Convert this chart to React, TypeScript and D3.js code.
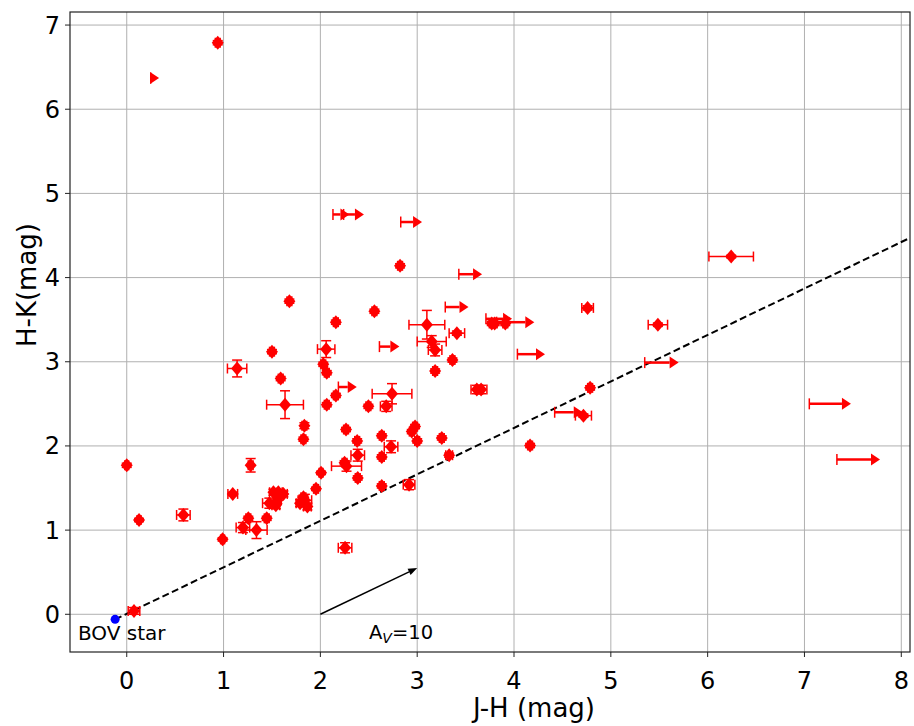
import React from 'react';
import * as d3 from 'd3';

// Detected sources: J-H, H-K with errors
const jhVals = [0.94, 0.0, 0.127, 0.585, 0.075, 0.99, 1.095, 1.28, 1.68, 1.5, 1.14, 1.59, 1.635, 1.835, 1.825, 2.06, 2.16, 2.03, 2.066, 2.16, 2.066, 2.007, 1.955, 1.515, 1.566, 1.618, 1.473, 1.54, 1.556, 1.79, 1.84, 1.866, 1.825, 1.446, 1.256, 1.2, 1.34, 2.823, 2.558, 3.1, 3.15, 3.185, 3.364, 3.41, 3.185, 2.74, 2.68, 2.496, 2.265, 2.38, 2.386, 2.27, 2.386, 2.634, 2.73, 2.634, 2.944, 2.978, 3.0, 3.254, 3.33, 2.255, 2.634, 2.916, 4.166, 4.786, 4.717, 3.616, 3.66, 3.77, 3.8, 3.91, 4.76, 6.243, 5.486, 2.25];
const hkVals = [6.79, 1.77, 1.12, 1.18, 0.04, 0.89, 1.43, 1.77, 3.72, 3.12, 2.92, 2.8, 2.49, 2.24, 2.08, 3.15, 3.47, 2.97, 2.87, 2.6, 2.49, 1.68, 1.49, 1.45, 1.45, 1.43, 1.32, 1.295, 1.355, 1.32, 1.355, 1.28, 1.39, 1.14, 1.14, 1.03, 1.0, 4.14, 3.6, 3.44, 3.24, 3.14, 3.02, 3.34, 2.89, 2.62, 2.47, 2.47, 2.195, 2.06, 1.89, 1.76, 1.62, 2.12, 1.99, 1.87, 2.17, 2.23, 2.06, 2.095, 1.89, 0.79, 1.525, 1.54, 2.005, 2.69, 2.36, 2.67, 2.67, 3.455, 3.455, 3.455, 3.64, 4.25, 3.44, 1.8];
const jhErr = [0.025, 0.02, 0.02, 0.07, 0.06, 0.02, 0.05, 0.025, 0.025, 0.025, 0.1, 0.025, 0.19, 0.025, 0.025, 0.09, 0.025, 0.025, 0.025, 0.025, 0.025, 0.02, 0.025, 0.04, 0.04, 0.04, 0.07, 0.04, 0.04, 0.04, 0.07, 0.04, 0.025, 0.025, 0.025, 0.07, 0.11, 0.025, 0.025, 0.185, 0.15, 0.07, 0.025, 0.08, 0.025, 0.205, 0.06, 0.025, 0.025, 0.025, 0.07, 0.155, 0.025, 0.025, 0.07, 0.025, 0.025, 0.025, 0.025, 0.025, 0.035, 0.07, 0.025, 0.06, 0.025, 0.025, 0.083, 0.06, 0.06, 0.025, 0.025, 0.025, 0.06, 0.23, 0.1, 0.025];
const hkErr = [0.025, 0.025, 0.02, 0.07, 0.04, 0.02, 0.02, 0.08, 0.025, 0.025, 0.1, 0.025, 0.165, 0.035, 0.025, 0.1, 0.025, 0.025, 0.025, 0.025, 0.025, 0.02, 0.02, 0.035, 0.035, 0.035, 0.06, 0.04, 0.04, 0.04, 0.07, 0.04, 0.025, 0.025, 0.025, 0.06, 0.1, 0.025, 0.025, 0.17, 0.07, 0.07, 0.025, 0.025, 0.025, 0.12, 0.06, 0.025, 0.025, 0.025, 0.07, 0.06, 0.025, 0.025, 0.07, 0.025, 0.025, 0.025, 0.025, 0.025, 0.025, 0.06, 0.025, 0.06, 0.025, 0.025, 0.02, 0.05, 0.05, 0.025, 0.025, 0.025, 0.025, 0.015, 0.02, 0.025];

// Lower limits in J-H (arrows): start, H-K, arrow tip
const limJH = [0.248, 2.13, 2.24, 2.83, 2.61, 2.186, 3.43, 3.29, 3.71, 3.82, 4.035, 4.42, 5.35, 7.05, 7.335];
const limHK = [6.37, 4.75, 4.75, 4.66, 3.18, 2.7, 4.04, 3.65, 3.51, 3.47, 3.09, 2.4, 2.99, 2.5, 1.84];
const limTip = [0.334, 2.3, 2.45, 3.05, 2.816, 2.376, 3.67, 3.53, 3.98, 4.21, 4.32, 4.71, 5.7, 7.48, 7.78];

const xTicks = [0, 1, 2, 3, 4, 5, 6, 7, 8];
const yTicks = [0, 1, 2, 3, 4, 5, 6, 7];

const bovJH = -0.12;
const bovHK = -0.06;
const reddeningSlope = 0.552;
const avStart = [2, 0];
const avEnd = [3, 0.55];

export default function App() {
  const W = 914, H = 726;
  const L = 70, R = 910, T = 12, B = 652;
  const x = d3.scaleLinear().domain([-0.586, 8.09]).range([L, R]);
  const y = d3.scaleLinear().domain([-0.448, 7.155]).range([B, T]);
  const red = '#ff0000';
  const cap = 5;
  const font = 'DejaVu Sans, sans-serif';

  const xEndLine = 8.09;
  const yEndLine = bovHK + reddeningSlope * (xEndLine - bovJH);

  const ax0 = x(avStart[0]), ay0 = y(avStart[1]);
  const ax1 = x(avEnd[0]), ay1 = y(avEnd[1]);
  const ang = Math.atan2(ay1 - ay0, ax1 - ax0);
  const hl = 9, hw = 3.5;
  const hx = ax1 - hl * Math.cos(ang), hy = ay1 - hl * Math.sin(ang);
  const head = [
    [ax1, ay1],
    [hx + hw * Math.sin(ang), hy - hw * Math.cos(ang)],
    [hx - hw * Math.sin(ang), hy + hw * Math.cos(ang)],
  ];

  return (
    <svg width={W} height={H} style={{ position: 'absolute', left: 0, top: 0, background: '#fff' }} fontFamily={font}>
      <defs>
        <clipPath id="plot">
          <rect x={L} y={T} width={R - L} height={B - T} />
        </clipPath>
      </defs>
      <rect x={0} y={0} width={W} height={H} fill="#fff" />
      {/* grid */}
      {xTicks.map(t => (
        <line key={'gx' + t} x1={x(t)} x2={x(t)} y1={T} y2={B} stroke="#b0b0b0" strokeWidth={1} />
      ))}
      {yTicks.map(t => (
        <line key={'gy' + t} x1={L} x2={R} y1={y(t)} y2={y(t)} stroke="#b0b0b0" strokeWidth={1} />
      ))}
      <g clipPath="url(#plot)">
        {/* reddening line */}
        <line x1={x(bovJH)} y1={y(bovHK)} x2={x(xEndLine)} y2={y(yEndLine)} stroke="#000" strokeWidth={2} strokeDasharray="7,3.5" />
        {/* Av vector */}
        <line x1={ax0} y1={ay0} x2={hx} y2={hy} stroke="#000" strokeWidth={1.5} />
        <polygon points={head.map(p => p.join(',')).join(' ')} fill="#000" />
        {/* points */}
        {jhVals.map((v, i) => {
          const cx = x(v), cy = y(hkVals[i]);
          const x0 = x(v - jhErr[i]), x1 = x(v + jhErr[i]);
          const y0 = y(hkVals[i] - hkErr[i]), y1 = y(hkVals[i] + hkErr[i]);
          return (
            <g key={'p' + i} stroke={red} strokeWidth={1.5}>
              <line x1={x0} x2={x1} y1={cy} y2={cy} />
              <line x1={x0} x2={x0} y1={cy - cap} y2={cy + cap} />
              <line x1={x1} x2={x1} y1={cy - cap} y2={cy + cap} />
              <line x1={cx} x2={cx} y1={y0} y2={y1} />
              <line x1={cx - cap} x2={cx + cap} y1={y0} y2={y0} />
              <line x1={cx - cap} x2={cx + cap} y1={y1} y2={y1} />
              <path d={`M${cx},${cy - 7}L${cx + 6},${cy}L${cx},${cy + 7}L${cx - 6},${cy}Z`} fill={red} stroke="none" />
            </g>
          );
        })}
        {/* lower limits */}
        {limJH.map((v, i) => {
          const sx = x(v), cy = y(limHK[i]), tx = x(limTip[i]);
          const bx = tx - 9;
          return (
            <g key={'a' + i}>
              <line x1={sx} x2={bx} y1={cy} y2={cy} stroke={red} strokeWidth={2.5} />
              <line x1={sx} x2={sx} y1={cy - 5.5} y2={cy + 5.5} stroke={red} strokeWidth={1.5} />
              <polygon points={`${bx},${cy - 6} ${tx},${cy} ${bx},${cy + 6}`} fill={red} />
            </g>
          );
        })}
        {/* BOV star */}
        <circle cx={x(bovJH)} cy={y(bovHK)} r={4.5} fill="#0000ff" />
      </g>
      {/* texts in plot */}
      <text x={78} y={640} fontSize={20} fill="#000">BOV star</text>
      <text x={369} y={639} fontSize={19.5} fill="#000">
        A<tspan fontSize={14} dy={4} fontStyle="italic">V</tspan><tspan dy={-4}>=10</tspan>
      </text>
      {/* spines */}
      <rect x={L} y={T} width={R - L} height={B - T} fill="none" stroke="#222" strokeWidth={1.2} />
      {/* ticks */}
      {xTicks.map(t => (
        <g key={'tx' + t}>
          <line x1={x(t)} x2={x(t)} y1={B} y2={B + 5} stroke="#222" strokeWidth={1} />
          <text x={x(t)} y={689} textAnchor="middle" fontSize={24} fill="#000">{t}</text>
        </g>
      ))}
      {yTicks.map(t => (
        <g key={'ty' + t}>
          <line x1={L - 5} x2={L} y1={y(t)} y2={y(t)} stroke="#222" strokeWidth={1} />
          <text x={L - 10} y={y(t) + 8.5} textAnchor="end" fontSize={24} fill="#000">{t}</text>
        </g>
      ))}
      {/* axis labels */}
      <text x={534} y={717} textAnchor="middle" fontSize={26} fill="#000">J-H (mag)</text>
      <text transform={`translate(36,${285}) rotate(-90)`} textAnchor="middle" fontSize={26} fill="#000">H-K(mag)</text>
    </svg>
  );
}
